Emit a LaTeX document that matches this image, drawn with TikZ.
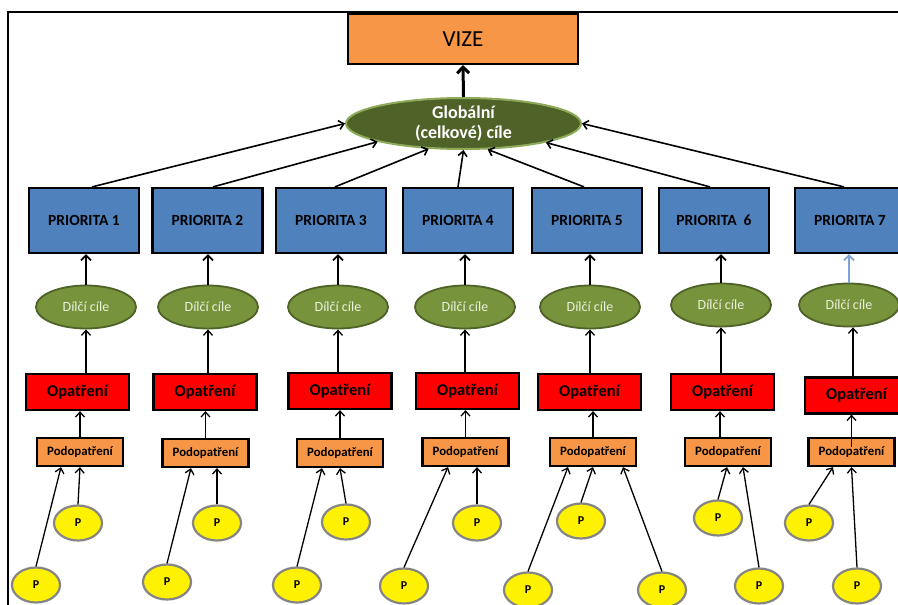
\documentclass[tikz,border=0pt]{standalone}
\usepackage{fontspec}
\setmainfont{Carlito}
\usetikzlibrary{arrows.meta,shapes.geometric}
\definecolor{vizeor}{HTML}{F79646}
\definecolor{prioblue}{HTML}{4F81BD}
\definecolor{globfill}{HTML}{4F6228}
\definecolor{globedge}{HTML}{8DAA5A}
\definecolor{dilcifill}{HTML}{77933C}
\definecolor{dilciedge}{HTML}{4F6228}
\definecolor{dilcitext}{HTML}{EAF1DD}
\definecolor{pgray}{HTML}{858585}
\definecolor{lblue}{HTML}{7BA3D6}
\begin{document}
\begin{tikzpicture}[x=1pt,y=-1pt,
  box/.style={draw=black,line width=2.2pt,inner sep=0pt,align=center},
  vize/.style={box,fill=vizeor,minimum width=230pt,minimum height=50pt,font=\fontsize{23}{26}\selectfont},
  glob/.style={ellipse,draw=globedge,line width=2pt,fill=globfill,text=white,minimum width=235pt,minimum height=51pt,inner sep=0pt,align=center,font=\fontsize{18}{20}\selectfont\bfseries},
  prio/.style={box,fill=prioblue,minimum width=110pt,minimum height=65pt,font=\fontsize{15.5}{18}\selectfont\bfseries},
  dilci/.style={ellipse,draw=dilciedge,line width=1.8pt,fill=dilcifill,text=dilcitext,minimum width=100pt,minimum height=43pt,inner sep=0pt,font=\fontsize{14}{16}\selectfont},
  opat/.style={box,fill=red,minimum width=103pt,minimum height=36pt,font=\fontsize{16.5}{19}\selectfont\bfseries},
  podo/.style={box,fill=vizeor,minimum width=86pt,minimum height=28pt,font=\fontsize{12.8}{15}\selectfont\bfseries},
  pp/.style={ellipse,draw=pgray,line width=2.2pt,fill=yellow,minimum width=48pt,minimum height=35pt,inner sep=0pt,font=\fontsize{12}{14}\selectfont\bfseries},
  arr/.style={-{Straight Barb[length=5pt,width=10pt]},line width=1.8pt},
  thinarr/.style={-{Straight Barb[length=5pt,width=9pt]},line width=1.3pt},
  midarr/.style={-{Straight Barb[length=5pt,width=9pt]},line width=1.6pt},
  bigarr/.style={-{Straight Barb[length=6pt,width=12pt,line width=3pt]},line width=3pt},
]
\useasboundingbox (0,0) rectangle (898,605);
\clip (0,0) rectangle (898,605);
\fill[white] (0,0) rectangle (898,605);
% frame
\draw[line width=2.6pt] (8,605) -- (8,12) -- (898,12);

\node[vize] (vize) at (463,39) {VIZE};
\node[glob] (glob) at (463.5,123.5) {Globální\\(celkové) cíle};

\node[prio] (p1) at (84,220.5) {PRIORITA 1};
\node[prio] (p2) at (207.5,220.5) {PRIORITA 2};
\node[prio] (p3) at (331,220.5) {PRIORITA 3};
\node[prio] (p4) at (458,220.5) {PRIORITA 4};
\node[prio] (p5) at (587,220.5) {PRIORITA 5};
\node[prio] (p6) at (714,220.5) {PRIORITA\ \ 6};
\node[prio] (p7) at (850,220.5) {PRIORITA 7};

\node[dilci] (d1) at (86,307) {Dílčí cíle};
\node[dilci] (d2) at (208,307) {Dílčí cíle};
\node[dilci] (d3) at (338,307) {Dílčí cíle};
\node[dilci] (d4) at (465,307) {Dílčí cíle};
\node[dilci] (d5) at (590,307) {Dílčí cíle};
\node[dilci] (d6) at (721,305) {Dílčí cíle};
\node[dilci] (d7) at (849,305) {Dílčí cíle};

\node[opat] (o1) at (77.5,392) {Opatření};
\node[opat] (o2) at (205,392) {Opatření};
\node[opat] (o3) at (340,391) {Opatření};
\node[opat] (o4) at (467.5,391) {Opatření};
\node[opat] (o5) at (589.5,392) {Opatření};
\node[opat] (o6) at (722.5,392) {Opatření};
\node[opat] (o7) at (856.5,395.5) {Opatření};

\node[podo] (q1) at (80,452) {Podopatření};
\node[podo] (q2) at (205.5,453) {Podopatření};
\node[podo] (q3) at (340,453) {Podopatření};
\node[podo] (q4) at (465.5,452) {Podopatření};
\node[podo] (q5) at (593,452) {Podopatření};
\node[podo] (q6) at (728,452) {Podopatření};
\node[podo] (q7) at (851.5,452) {Podopatření};

% P circles
\node[pp] (a1) at (78,523) {P};
\node[pp] (b1) at (36,585) {P};
\node[pp] (a2) at (217,523) {P};
\node[pp] (b2) at (167,582) {P};
\node[pp] (a3) at (346,522) {P};
\node[pp] (b3) at (297,585) {P};
\node[pp] (a4) at (477,523) {P};
\node[pp] (b4) at (404,586) {P};
\node[pp] (a5) at (581,521) {P};
\node[pp] (b5) at (528,590) {P};
\node[pp] (c5) at (662,590) {P};
\node[pp] (a6) at (718,518) {P};
\node[pp] (b6) at (759,586) {P};
\node[pp] (a7) at (809,523) {P};
\node[pp] (b7) at (857,586) {P};

% arrow to VIZE
\draw[bigarr] (glob.north) -- (vize.south);

% priorities to global
\draw[midarr] ([xshift=8pt]p1.north) -- (glob.180);
\draw[midarr] ([xshift=5.5pt]p2.north) -- (glob.192);
\draw[midarr] ([xshift=4pt]p3.north) -- (glob.216);
\draw[midarr] (p4.north) -- (glob.south);
\draw[midarr] ([xshift=-3pt]p5.north) -- (glob.313);
\draw[midarr] ([xshift=-4pt]p6.north) -- (glob.347);
\draw[midarr] ([xshift=-6pt]p7.north) -- (glob.0);

% dilci to priority
\draw[arr] (d1.north) -- (d1.north |- p1.south);
\draw[arr] (d2.north) -- (d2.north |- p2.south);
\draw[arr] (d3.north) -- (d3.north |- p3.south);
\draw[arr] (d4.north) -- (d4.north |- p4.south);
\draw[arr] (d5.north) -- (d5.north |- p5.south);
\draw[arr] (d6.north) -- (d6.north |- p6.south);
\draw[arr,draw=lblue] (d7.north) -- (d7.north |- p7.south);

% opatreni to dilci
\draw[thinarr] (d1.south |- o1.north) -- (d1.south);
\draw[thinarr] (d2.south |- o2.north) -- (d2.south);
\draw[thinarr] (d3.south |- o3.north) -- (d3.south);
\draw[thinarr] (d4.south |- o4.north) -- (d4.south);
\draw[thinarr] (d5.south |- o5.north) -- (d5.south);
\draw[thinarr] (d6.south |- o6.north) -- (d6.south);
\draw[thinarr] ([xshift=4pt]d7.south |- o7.north) -- ([xshift=4pt]d7.south);

% podopatreni to opatreni
\draw[thinarr] (q1.north) -- (q1.north |- o1.south);
\draw[thinarr] (q2.north) -- (q2.north |- o2.south);
\draw[thinarr] (q3.north) -- (q3.north |- o3.south);
\draw[thinarr] (q4.north) -- (q4.north |- o4.south);
\draw[thinarr] (q5.north) -- (q5.north |- o5.south);
\draw[thinarr] ([xshift=-8pt]q6.north) -- ([xshift=-8pt]q6.north |- o6.south);
\draw[thinarr] ([yshift=-10pt]q7.north) -- (q7.north |- o7.south);

% P to podopatreni
\draw[thinarr] (b1.north) -- ([xshift=-19pt]q1.south);
\draw[thinarr] (a1.north) -- (q1.south);
\draw[thinarr] (b2.north) -- ([xshift=-14.5pt]q2.south);
\draw[thinarr] (a2.north) -- ([xshift=11.5pt]q2.south);
\draw[thinarr] (b3.north) -- ([xshift=-18pt]q3.south);
\draw[thinarr] (a3.north) -- (q3.south);
\draw[thinarr] (b4.north) -- ([xshift=-17.5pt]q4.south);
\draw[thinarr] (a4.north) -- ([xshift=11.5pt]q4.south);
\draw[thinarr] (b5.north) -- ([xshift=-25pt]q5.south);
\draw[thinarr] (a5.north) -- (q5.south);
\draw[thinarr] (c5.north) -- ([xshift=30pt]q5.south);
\draw[thinarr] (a6.north) -- ([xshift=-1pt]q6.south);
\draw[thinarr] (b6.north) -- ([xshift=15pt]q6.south);
\draw[thinarr] (a7.north) -- ([xshift=-18.5pt]q7.south);
\draw[thinarr] (b7.north) -- (q7.south);
\end{tikzpicture}
\end{document}
